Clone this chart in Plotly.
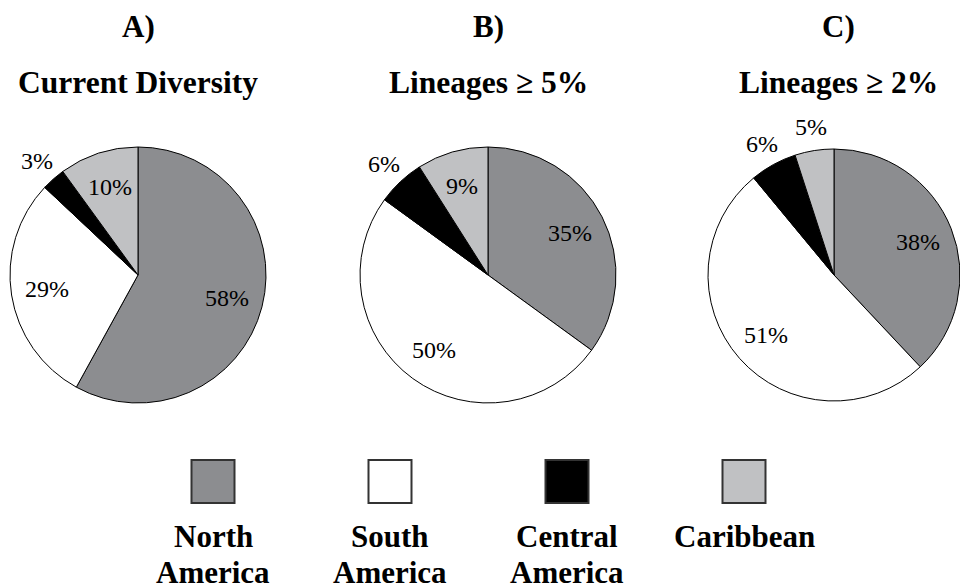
import math
import plotly.graph_objects as go

# ---- data ----
regions = ["North America", "South America", "Central America", "Caribbean"]
legend_line1 = ["North", "South", "Central", "Caribbean"]
legend_line2 = ["America", "America", "America", ""]
panel_letters = ["A)", "B)", "C)"]
panel_titles = ["Current Diversity", "Lineages \u2265 5%", "Lineages \u2265 2%"]
current_diversity = [58, 29, 3, 10]
lineages_5 = [35, 50, 6, 9]
lineages_2 = [38, 51, 6, 5]

# ---- style ----
colors = ["#8c8d90", "#ffffff", "#000000", "#c0c1c3"]
W, H = 960, 587
FONT = "Liberation Serif, Times New Roman, serif"
INSIDE_F, OUTSIDE_F = 0.72, 1.19

panels = [
    dict(values=current_diversity, dx=(10, 266), dy=(147, 403), tx=138,
         pos=["in", "in", "out", "in"]),
    dict(values=lineages_5, dx=(360, 616), dy=(147, 403), tx=488,
         pos=["in", "in", "out", "in"]),
    dict(values=lineages_2, dx=(708, 960), dy=(149, 401), tx=838,
         pos=["in", "in", "out", "out"]),
]


def px_dom_x(a, b):
    return [a / W, min(b / W, 1.0)]


def px_dom_y(top, bottom):
    return [1 - bottom / H, 1 - top / H]


fig = go.Figure()
annotations = []
for p in panels:
    fig.add_trace(go.Pie(
        labels=regions,
        values=p["values"],
        sort=False,
        direction="clockwise",
        rotation=0,
        marker=dict(colors=colors, line=dict(color="#000000", width=1)),
        textinfo="none",
        domain=dict(x=px_dom_x(*p["dx"]), y=px_dom_y(*p["dy"])),
        showlegend=False,
        hoverinfo="label+percent",
    ))
    # percentage labels placed along each slice's mid-angle
    cx = (p["dx"][0] + p["dx"][1]) / 2
    cy = (p["dy"][0] + p["dy"][1]) / 2
    r = min(p["dx"][1] - p["dx"][0], p["dy"][1] - p["dy"][0]) / 2
    total = sum(p["values"])
    cum = 0
    for v, pos in zip(p["values"], p["pos"]):
        mid = (cum + v / 2) / total * 2 * math.pi
        cum += v
        f = INSIDE_F if pos == "in" else OUTSIDE_F
        lx = cx + f * r * math.sin(mid)
        ly = cy - f * r * math.cos(mid)
        annotations.append(dict(text=f"{v}%", x=lx / W, y=1 - ly / H,
                                xref="paper", yref="paper", showarrow=False,
                                xanchor="center", yanchor="middle",
                                font=dict(family=FONT, size=24, color="#000000")))

# legend-like swatches
fig.add_trace(go.Scatter(
    x=list(range(len(regions))),
    y=[0] * len(regions),
    mode="markers",
    marker=dict(symbol="square", size=43, color=colors,
                line=dict(color="#333333", width=2)),
    cliponaxis=False,
    showlegend=False,
    hoverinfo="skip",
    xaxis="x", yaxis="y",
))

for i, (letter, title) in enumerate(zip(panel_letters, panel_titles)):
    tx = panels[i]["tx"] / W
    annotations.append(dict(text=letter, x=tx, y=1 - 26 / H, xref="paper", yref="paper",
                            showarrow=False, xanchor="center", yanchor="middle",
                            font=dict(family=FONT, size=31, color="#000000", weight="bold")))
    annotations.append(dict(text=title, x=tx, y=1 - 82 / H, xref="paper", yref="paper",
                            showarrow=False, xanchor="center", yanchor="middle",
                            font=dict(family=FONT, size=31.5, color="#000000", weight="bold")))

for i, (l1, l2) in enumerate(zip(legend_line1, legend_line2)):
    annotations.append(dict(text=l1, x=i, y=1 - 536 / H, xref="x", yref="paper",
                            showarrow=False, xanchor="center", yanchor="middle",
                            font=dict(family=FONT, size=31, color="#000000", weight="bold")))
    if l2:
        annotations.append(dict(text=l2, x=i, y=1 - 572 / H, xref="x", yref="paper",
                                showarrow=False, xanchor="center", yanchor="middle",
                                font=dict(family=FONT, size=31, color="#000000", weight="bold")))

fig.update_layout(
    width=W, height=H,
    margin=dict(l=0, r=0, t=0, b=0),
    paper_bgcolor="#ffffff",
    plot_bgcolor="rgba(0,0,0,0)",
    xaxis=dict(domain=px_dom_x(124.5, 832.5), range=[-0.5, 3.5], visible=False, fixedrange=True),
    yaxis=dict(domain=px_dom_y(461, 502), range=[-1, 1], visible=False, fixedrange=True),
    annotations=annotations,
)

fig.write_html("out.html", config={"displayModeBar": False},
               post_script="document.body.style.margin='0px';")
